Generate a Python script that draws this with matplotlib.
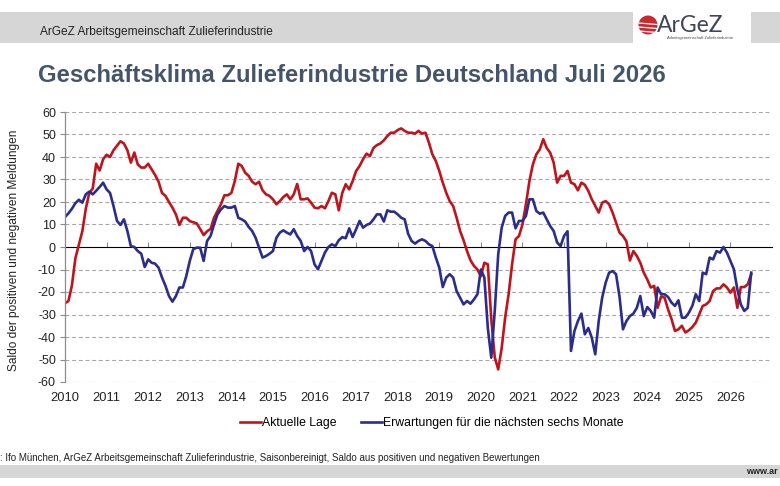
import numpy as np
import matplotlib
matplotlib.use("Agg")
import matplotlib.pyplot as plt
from matplotlib.patches import Rectangle, Circle

plt.rcParams['font.family'] = ['Liberation Sans', 'DejaVu Sans']
plt.rcParams['axes.unicode_minus'] = False

# ---------------- data (monthly, Jan 2010 - Jul 2026) ----------------
start_year = 2010
years = list(range(2010, 2027))
y_ticks = list(range(-60, 61, 10))

aktuelle_lage = [
    -25, -24, -17, -5, 1, 7, 17, 24, 26, 37, 34, 39,
    41, 40, 43, 45, 47, 46, 43, 37.5, 42, 36.7, 35.3, 35.3,
    37, 34.5, 32, 29, 24, 22.7, 20, 17.5, 14.5, 9.8, 13, 13,
    11.5, 11, 10.5, 8, 5.3, 7, 8, 13, 16, 19, 23, 23,
    24, 29.3, 37, 36, 33, 31.6, 29, 27.9, 29, 25.2, 23.4, 22.7,
    21.2, 19, 20.4, 22.2, 23.4, 21.2, 23.4, 28, 21.2, 21.2, 21.6, 19.7,
    17.5, 17.2, 18.2, 17.2, 20.4, 24.1, 23.4, 16.3, 24, 27.9, 25.6, 29.3,
    33.8, 36, 39, 41.5, 40.4, 44, 45.3, 46, 47.4, 49.3, 50.8, 50.8,
    52, 52.7, 51.6, 50.8, 50.8, 50.4, 51.6, 50.4, 50.8, 46.4, 41.2, 38.2,
    33.8, 28.6, 24.1, 20.4, 18.2, 13, 7.1, 3, -1.8, -5.9, -8.4, -10,
    -13, -7, -7.7, -32, -49, -54.4, -45, -31.4, -21, -7.7, 3.4, 4.9,
    10, 19, 29.3, 36.7, 41.2, 43.4, 47.9, 44, 41.9, 37.5, 28.6, 31.6,
    31.6, 33.8, 28.6, 27.9, 25.2, 28.6, 27.6, 24.9, 21.2, 18.2, 15.3, 19.7,
    20.4, 19, 15.3, 10.8, 6.4, 4.9, 2.5, -6, -1.8, -4, -7, -11.4,
    -14.4, -18, -17.3, -27, -22, -22.5, -27.7, -32, -37.3, -36.6, -35, -38,
    -37, -35.6, -33.6, -30, -26.2, -25.5, -24, -19.6, -18.4, -18.4, -16.6, -18,
    -20.3, -18, -27, -17.8, -17.8, -16.6, -12.1,
]

erwartungen = [
    13.3, 15, 17, 19.5, 21, 19.7, 23.4, 24.6, 23.4, 25, 26.7, 28.6,
    25.6, 24, 18.2, 11.6, 9.8, 12.3, 7.1, 0.4, 0, -1.8, -3, -8.9,
    -5.5, -7, -7.4, -9.2, -13.6, -17.3, -21.8, -24.3, -21.8, -18, -18, -12.9,
    -6.2, -1, -0.3, -0.3, -6.2, 2.7, 4.9, 10, 14.5, 16.7, 18.2, 17.5,
    17.5, 18.2, 13, 12.3, 11.3, 8.9, 7.1, 4.1, -0.3, -4.7, -4, -3,
    -1.8, 4.1, 6.4, 7.4, 6.4, 5.6, 7.9, 4.9, 2.7, -1.8, 0, -1.8,
    -7.7, -9.9, -6.2, -2.5, 0, 1.2, 0.4, 3, 4.4, 3.9, 8.3, 4.4,
    7.9, 11.6, 8.6, 9.8, 10.4, 12.3, 14.5, 14.5, 11.3, 16.3, 15.7, 15.7,
    14.5, 13, 12.3, 5.9, 2.7, 1.5, 2.7, 3.4, 2.7, 1.2, 0.4, -4.7,
    -9.2, -17.8, -13.6, -12.1, -13.6, -19.6, -22.5, -25.5, -24, -25.2, -23.3, -21,
    -10, -13.6, -36, -49.2, -28.4, -3.3, 8.6, 13.8, 15.3, 15.3, 8.3, 11.6,
    11.6, 13.8, 21.2, 21.2, 16, 14.8, 15.3, 12.3, 9.3, 7.1, 2, 0.4,
    4.9, 7, -46.2, -37.3, -32.9, -29.6, -38.8, -36, -40.3, -47.7, -32.9, -22.5,
    -15.9, -11.4, -10.7, -12.1, -22, -36.6, -32.9, -30.7, -29.6, -27, -21.8, -30.7,
    -26.7, -28.4, -31.4, -18, -21, -21, -22.2, -24.7, -26.2, -23.7, -31.4, -31.4,
    -29.2, -26.2, -21, -24, -11.4, -12.1, -4.7, -5.5, -1.8, -2.5, 0, -2.5,
    -6.2, -9.9, -18.8, -25.5, -28.4, -27, -11.4,
]

label_lage = "Aktuelle Lage"
label_erw = "Erwartungen für die nächsten sechs Monate"
title = "Geschäftsklima Zulieferindustrie Deutschland Juli 2026"
header = "ArGeZ Arbeitsgemeinschaft Zulieferindustrie"
source = ": Ifo München, ArGeZ Arbeitsgemeinschaft Zulieferindustrie, Saisonbereinigt, Saldo aus positiven und negativen Bewertungen"
ylabel = "Saldo der positiven und negativen Meldungen"
logo_text = "ArGeZ"
logo_sub = "Arbeitsgemeinschaft Zulieferindustrie"
web = "www.ar"

# decimal-year time axis
t = start_year + np.arange(len(aktuelle_lage)) / 12.0

RED = "#c0141c"
BLUE = "#2b2d8c"
GRID = "#a6a6a6"
BAND = "#d6d6d6"
TITLE_C = "#44546a"

W, H = 780, 486
fig = plt.figure(figsize=(W / 100, H / 100), dpi=100)
fig.patch.set_facecolor("white")

# background decoration layer in pixel coordinates
bg = fig.add_axes([0, 0, 1, 1], zorder=0)
bg.set_xlim(0, W)
bg.set_ylim(H, 0)
bg.axis("off")
bg.add_patch(Rectangle((0, 12), W, 31, color=BAND, lw=0))
bg.add_patch(Rectangle((633, 8), 118, 37, color="white", lw=0))
bg.add_patch(Rectangle((0, 465), W, 13, color=BAND, lw=0))
# logo
bg.add_patch(Circle((648, 25), 9.5, color="#c8282e", lw=0))
for dy in [-2, 2, 6]:
    bg.plot([639, 657], [25 + dy, 25 + dy + 1.5], color="white", lw=0.9)
bg.text(657, 25, logo_text, fontsize=16.5, color="#3f4659", va="center", ha="left",
        family=["Lato", "DejaVu Sans"])
bg.text(667, 37.5, logo_sub, fontsize=2.9, color="#3f4659", va="center", ha="left")
bg.text(40, 32.5, header, fontsize=8.6, color="#222222", va="center", ha="left")
bg.text(38, 75, title, fontsize=17.2, fontweight="bold", color=TITLE_C,
        va="center", ha="left")
bg.text(0, 457.5, source, fontsize=7.0, color="#222222", va="center", ha="left")
bg.text(746, 471, web, fontsize=6.5, fontweight="bold",
        color="#222222", va="center", ha="left")
bg.text(14, 250, ylabel, fontsize=8.6, rotation=90, va="center", ha="center",
        color="#222222")

# main plot
ax = fig.add_axes([65 / W, 1 - 382 / H, (772 - 65) / W, (382 - 112) / H], zorder=2)
ax.patch.set_alpha(0)
ax.plot(t, aktuelle_lage, color=RED, lw=1.9, label=label_lage, solid_joinstyle="round")
ax.plot(t, erwartungen, color=BLUE, lw=1.9, label=label_erw, solid_joinstyle="round")

ax.set_xlim(2010, 2027)
ax.set_ylim(-60, 60)
ax.set_yticks(y_ticks)
ax.set_yticklabels([str(v) for v in y_ticks])
ax.set_xticks(years)
ax.set_xticklabels([str(y) for y in years])
for v in y_ticks:
    if v != 0:
        ax.axhline(v, color=GRID, lw=0.8, ls=(0, (3.5, 2.5)), zorder=0)

for s in ["top", "right", "bottom"]:
    ax.spines[s].set_visible(False)
ax.spines["left"].set_color("#8c8c8c")
ax.spines["left"].set_linewidth(0.9)
ax.tick_params(axis="y", length=3.5, width=0.8, color="#8c8c8c", labelsize=9,
               pad=3, labelcolor="#222222")
ax.tick_params(axis="x", length=0, labelsize=9.3, pad=7, labelcolor="#222222")

# zero line with year tick marks
sec = ax.secondary_xaxis(0.5)
sec.set_xticks(years[1:])
sec.set_xticklabels([])
sec.spines["bottom"].set_color("#8c8c8c")
sec.spines["bottom"].set_linewidth(0.9)
sec.tick_params(axis="x", length=3.5, width=0.8, color="#8c8c8c", direction="out")

fig.legend(loc="center", bbox_to_anchor=(432 / W, 1 - 423 / H), ncol=2,
           frameon=False, fontsize=8.8, handlelength=1.7, handletextpad=0.1,
           columnspacing=2.0)

fig.savefig("out.png", dpi=100)
